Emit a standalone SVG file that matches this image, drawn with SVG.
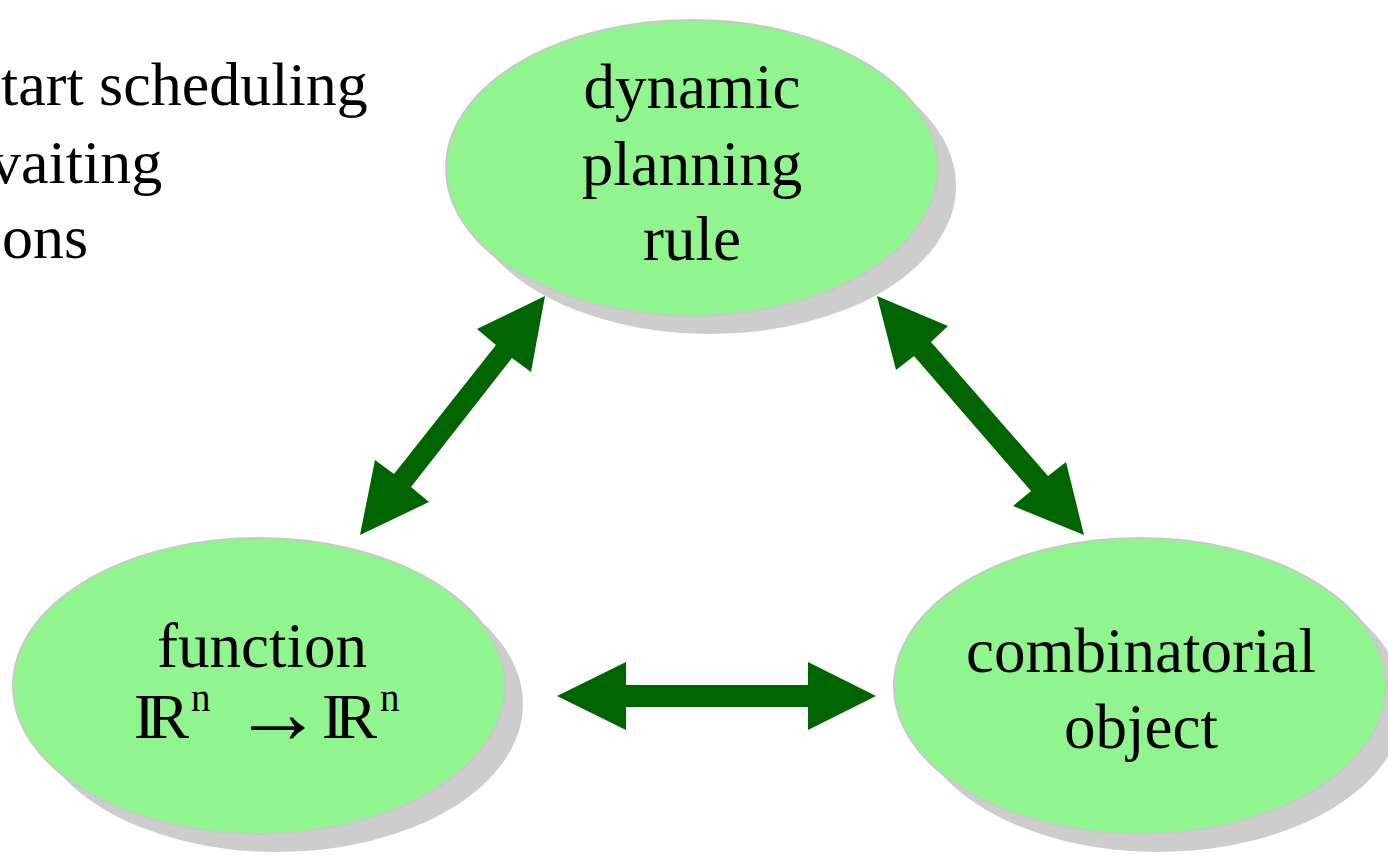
<svg xmlns="http://www.w3.org/2000/svg" width="1388" height="855" viewBox="0 0 1388 855">
  <style>
    .bg { fill: #ffffff; }
    .shadow { fill: #cdcdcd; }
    .bubble { fill: #90f58e; stroke: #c8c8c8; stroke-width: 2; }
    .label { font-family: "Liberation Serif", "Times New Roman", serif; font-size: 63px; fill: #000000; }
    .note { font-size: 62px; }
    .mid { text-anchor: middle; }
    .sup { font-size: 39px; }
    .maps { font-size: 90px; }
    .link { fill: #006400; }
  </style>
  <rect class="bg" x="0" y="0" width="1388" height="855"/>

  <!-- side note, running off the left edge -->
  <g id="note">
    <text class="label note" x="1" y="105">tart scheduling</text>
    <text class="label note" x="-10" y="183">vaiting</text>
    <text class="label note" x="2" y="258">ons</text>
  </g>

  <!-- connectors -->
  <g id="connectors">
    <polygon class="link" points="557,696 626,662 626,685 808,685 808,662 876,696 808,730 808,707 626,707 626,730"/>
    <polygon class="link" points="545,296 531,372 512,358 411,487 429,502 360,535 375,460 394,474 496,345 477,329"/>
    <polygon class="link" points="877,296 948,326 931,342 1048,476 1066,462 1084,535 1013,506 1031,491 914,356 896,370"/>
  </g>

  <!-- dynamic planning rule -->
  <g id="node-rule">
    <ellipse class="shadow" cx="710" cy="186" rx="246" ry="148"/>
    <ellipse class="bubble" cx="692" cy="168" rx="246" ry="148"/>
    <text class="label mid" x="692" y="108">dynamic</text>
    <text class="label mid" x="692" y="185">planning</text>
    <text class="label mid" x="692" y="260">rule</text>
  </g>

  <!-- function R^n -> R^n (reals written as overlapped I and R) -->
  <g id="node-function">
    <ellipse class="shadow" cx="277" cy="704" rx="246" ry="148"/>
    <ellipse class="bubble" cx="259" cy="686" rx="246" ry="148"/>
    <text class="label mid" x="262" y="667">function</text>
    <text class="label" x="134" y="738">I<tspan dx="-8">R</tspan><tspan class="sup" x="191" y="711">n</tspan></text>
    <text class="label maps" x="233" y="743">→</text>
    <text class="label" x="322" y="738">I<tspan dx="-8">R</tspan><tspan class="sup" x="380" y="711">n</tspan></text>
  </g>

  <!-- combinatorial object -->
  <g id="node-object">
    <ellipse class="shadow" cx="1158" cy="704" rx="246" ry="148"/>
    <ellipse class="bubble" cx="1140" cy="686" rx="246" ry="148"/>
    <text class="label mid" x="1141" y="672">combinatorial</text>
    <text class="label mid" x="1141" y="748">object</text>
  </g>
</svg>
